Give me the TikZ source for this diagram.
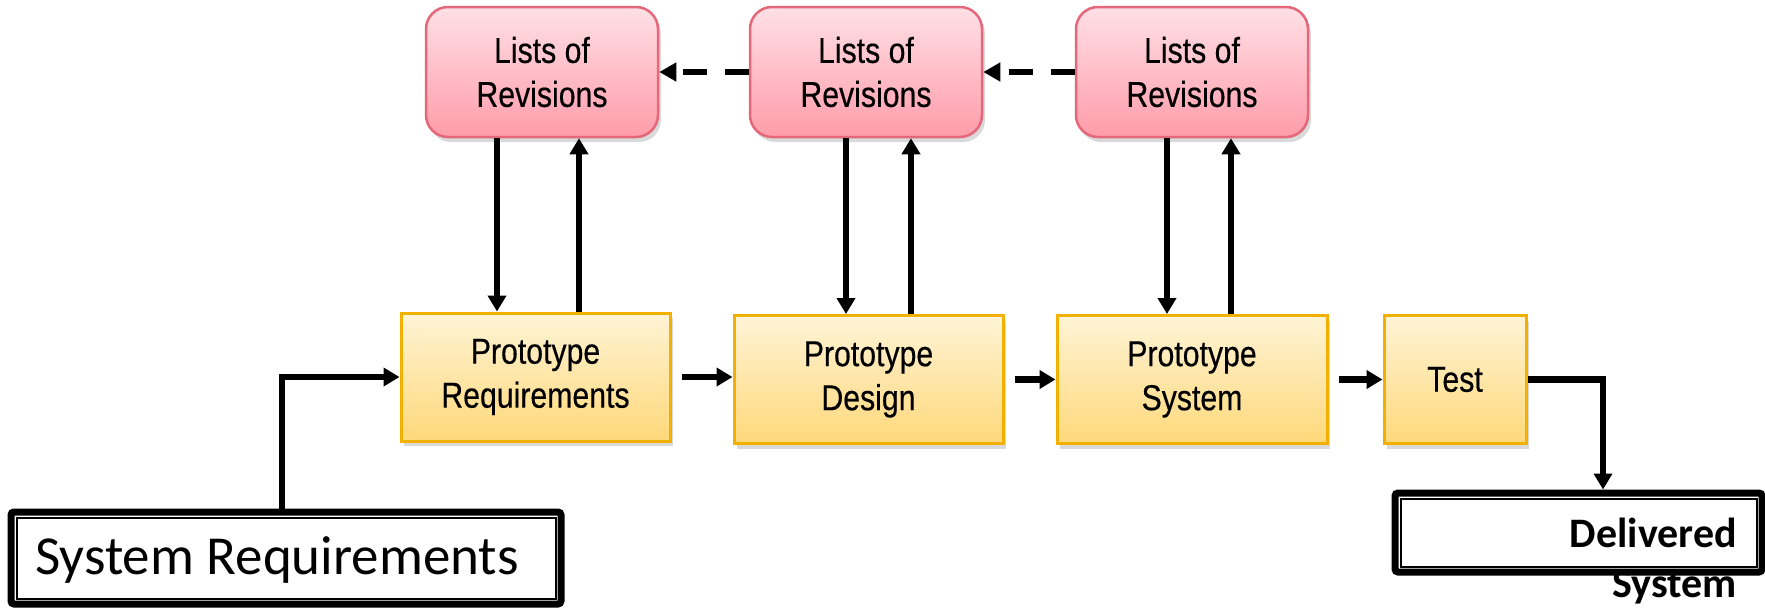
\documentclass[tikz,border=0pt]{standalone}
\usepackage{fontspec}
\setmainfont{Liberation Sans}
\newfontfamily\boxfont[FakeStretch=0.84,FakeBold=0.4]{Liberation Sans}
\newfontfamily\calfont{Carlito}
\usetikzlibrary{arrows.meta,shadows}

\definecolor{revline}{RGB}{228,104,122}
\definecolor{revtop}{RGB}{255,224,230}
\definecolor{revbot}{RGB}{255,156,170}
\definecolor{stepline}{RGB}{242,176,0}
\definecolor{steptop}{RGB}{255,244,214}
\definecolor{stepbot}{RGB}{255,216,122}

\begin{document}
\begin{tikzpicture}[x=1pt,y=1pt,
  softshadow/.style={drop shadow={shadow xshift=3pt,shadow yshift=-5pt,opacity=0.25,fill=black!60}},
  revbox/.style={rectangle, rounded corners=22pt, draw=revline, line width=2.5pt,
    top color=revtop, bottom color=revbot, minimum width=232pt, minimum height=130pt,
    inner sep=0pt, align=center, font=\boxfont\fontsize{36}{44}\selectfont, softshadow},
  stepbox/.style={rectangle, draw=stepline, line width=3pt,
    top color=steptop, bottom color=stepbot, minimum height=128pt,
    inner sep=0pt, align=center, font=\boxfont\fontsize{36}{44}\selectfont, softshadow},
  endbox/.style={rectangle, draw=black, line width=7pt, rounded corners=3pt, fill=white, inner sep=0pt},
  innerline/.style={draw=black, line width=2pt},
  arr/.style={line width=6.5pt, -{Triangle[width=18pt,length=16pt]}},
  dasharr/.style={line width=6.5pt, dash pattern=on 24pt off 18pt, -{Triangle[width=18pt,length=17pt]}}
]
\useasboundingbox (0,0) rectangle (1765,-608);

% revision lists
\node[revbox] (p1) at (542,-72)  {Lists of\\Revisions};
\node[revbox] (p2) at (866,-72)  {Lists of\\Revisions};
\node[revbox] (p3) at (1192,-72) {Lists of\\Revisions};

% prototype stages
\node[stepbox, minimum width=269pt] (y1) at (535.5,-377)  {Prototype\\Requirements};
\node[stepbox, minimum width=269pt] (y2) at (868.5,-379.5) {Prototype\\Design};
\node[stepbox, minimum width=270pt] (y3) at (1192,-379.5)  {Prototype\\System};
\node[stepbox, minimum width=142pt] (y4) at (1455,-379.5)  {Test};

% input and output boxes with a double frame
\node[endbox, minimum width=550pt, minimum height=92pt] (sr) at (286,-558) {};
\draw[innerline] ([shift={(9pt,-9pt)}]sr.north west) rectangle ([shift={(-9pt,9pt)}]sr.south east);
\node[anchor=base west, inner sep=0pt, font=\calfont\fontsize{55}{60}\selectfont] (srtext) at (35,-574) {System Requirements};

\node[endbox, minimum width=367pt, minimum height=79pt] (ds) at (1578.5,-532.5) {};
\draw[innerline] ([shift={(9pt,-9pt)}]ds.north west) rectangle ([shift={(-9pt,9pt)}]ds.south east);
\node[anchor=north east, inner sep=0pt, align=right, font=\calfont\bfseries\fontsize{42}{50}\selectfont] (dstext) at (1737,-518) {Delivered\\System};

% feedback between revisions
\draw[dasharr] (p2.west) -- (p1.east);
\draw[dasharr] (p3.west) -- (p2.east);

% revisions to and from prototypes
\draw[arr] (p1.south -| 497,0)  -- (y1.north -| 497,0);
\draw[arr] (y1.north -| 579,0)  -- (p1.south -| 579,0);
\draw[arr] (p2.south -| 846,0)  -- (y2.north -| 846,0);
\draw[arr] (y2.north -| 911,0)  -- (p2.south -| 911,0);
\draw[arr] (p3.south -| 1167,0) -- (y3.north -| 1167,0);
\draw[arr] (y3.north -| 1231,0) -- (p3.south -| 1231,0);

% main flow
\draw[arr] (sr.north -| 282,0) |- (y1.west);
\draw[arr, shorten <=10pt] (y1.east) -- (y1.east -| y2.west);
\draw[arr, shorten <=10pt] (y2.east) -- (y2.east -| y3.west);
\draw[arr, shorten <=10pt] (y3.east) -- (y3.east -| y4.west);
\draw[arr] (y4.east) -| (ds.north -| 1603,0);
\end{tikzpicture}
\end{document}
